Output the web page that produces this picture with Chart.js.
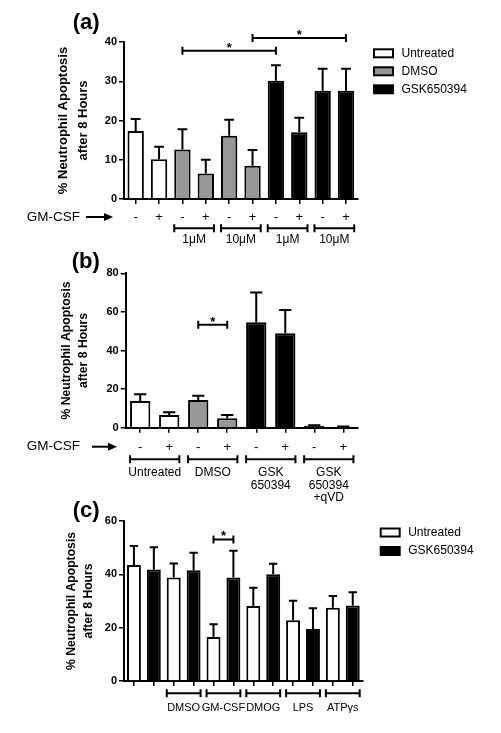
<!DOCTYPE html>
<html>
<head>
<meta charset="utf-8">
<script src="https://cdn.jsdelivr.net/npm/chart.js@4.4.1/dist/chart.umd.min.js"></script>
<style>
  html, body { margin: 0; padding: 0; background: #fff; }
  #wrap { position: relative; width: 501px; height: 733px; overflow: hidden; background: #fff; }
  canvas { position: absolute; left: 0; }
</style>
</head>
<body>
<div id="wrap">
  <canvas id="chartA" width="501" height="250" style="top:0px"></canvas>
  <canvas id="chartB" width="501" height="260" style="top:245px"></canvas>
  <canvas id="chartC" width="501" height="243" style="top:490px"></canvas>
</div>
<script>
// ---- panel (a) ----
const aCategories = ['Untreated -', 'Untreated +', 'DMSO 1μM -', 'DMSO 1μM +', 'DMSO 10μM -', 'DMSO 10μM +',
  'GSK650394 1μM -', 'GSK650394 1μM +', 'GSK650394 10μM -', 'GSK650394 10μM +']
const aTreatment = ['Untreated', 'Untreated', 'DMSO', 'DMSO', 'DMSO', 'DMSO', 'GSK650394', 'GSK650394', 'GSK650394', 'GSK650394']
const aGmCsf = ['-', '+', '-', '+', '-', '+', '-', '+', '-', '+']
const aMeans = [17.3, 10.1, 12.6, 6.5, 16.1, 8.5, 30.1, 17.0, 27.6, 27.6]
const aSem = [3.1, 3.2, 5.2, 3.5, 4.1, 4.0, 4.0, 3.7, 5.6, 5.6]
const aYMax = 40
const aYStep = 10
const aGroups = [[2, 3, ['1μM']], [4, 5, ['10μM']], [6, 7, ['1μM']], [8, 9, ['10μM']]]
const aSignif = [[2, 6, 37.8], [5, 9, 41]]
const aLegend = ['Untreated', 'DMSO', 'GSK650394']

// ---- panel (b) ----
const bCategories = ['Untreated -', 'Untreated +', 'DMSO -', 'DMSO +', 'GSK650394 -', 'GSK650394 +', 'GSK650394 +qVD -', 'GSK650394 +qVD +']
const bTreatment = ['Untreated', 'Untreated', 'DMSO', 'DMSO', 'GSK650394', 'GSK650394', 'GSK650394', 'GSK650394']
const bGmCsf = ['-', '+', '-', '+', '-', '+', '-', '+']
const bMeans = [13.8, 6.6, 14.3, 4.9, 54.6, 48.9, 1.0, 0.5]
const bSem = [3.5, 1.4, 2.3, 1.7, 15.4, 12.1, 0.3, 0.1]
const bYMax = 80
const bYStep = 20
const bGroups = [[0, 1, ['Untreated']], [2, 3, ['DMSO']], [4, 5, ['GSK', '650394']], [6, 7, ['GSK', '650394', '+qVD']]]
const bSignif = [[2, 3, 53.4]]

// ---- panel (c) ----
const cCategories = ['Untreated', 'GSK650394', 'DMSO', 'DMSO + GSK650394', 'GM-CSF', 'GM-CSF + GSK650394',
  'DMOG', 'DMOG + GSK650394', 'LPS', 'LPS + GSK650394', 'ATPγs', 'ATPγs + GSK650394']
const cTreatment = ['Untreated', 'GSK650394', 'Untreated', 'GSK650394', 'Untreated', 'GSK650394',
  'Untreated', 'GSK650394', 'Untreated', 'GSK650394', 'Untreated', 'GSK650394']
const cMeans = [43.5, 41.8, 38.8, 41.5, 16.5, 38.8, 28.1, 40.0, 22.8, 19.5, 27.5, 28.3]
const cSem = [7.1, 8.4, 5.3, 6.6, 4.8, 10.0, 6.9, 4.0, 7.3, 7.8, 4.4, 5.0]
const cYMax = 60
const cYStep = 20
const cGroups = [[2, 3, ['DMSO']], [4, 5, ['GM-CSF']], [6, 7, ['DMOG']], [8, 9, ['LPS']], [10, 11, ['ATPγs']]]
const cSignif = [[4, 5, 53.1]]
const cLegend = ['Untreated', 'GSK650394']

const yTitle = ['% Neutrophil Apoptosis', 'after 8 Hours']

const FONT = "'Liberation Sans', Arial, Helvetica, sans-serif"
const fills = { Untreated: '#ffffff', DMSO: '#979797', GSK650394: '#000000' }

const bracket = (ctx, x1, x2, yy, h) => {
  ctx.beginPath()
  ctx.moveTo(x1, yy); ctx.lineTo(x2, yy)
  ctx.moveTo(x1, yy - h); ctx.lineTo(x1, yy + h)
  ctx.moveTo(x2, yy - h); ctx.lineTo(x2, yy + h)
  ctx.stroke()
}

const panelExtras = (p) => ({
  id: 'panelExtras',
  afterDatasetsDraw(chart) {
    const { ctx, chartArea, scales: { y } } = chart
    const bars = chart.getDatasetMeta(0).data
    ctx.save()
    ctx.strokeStyle = '#000'
    ctx.fillStyle = '#000'
    ctx.lineWidth = 2

    // error bars (upper only)
    bars.forEach((bar, i) => {
      const top = y.getPixelForValue(p.means[i] + p.sem[i])
      const cap = bar.width * 0.6
      ctx.beginPath()
      ctx.moveTo(bar.x, bar.y); ctx.lineTo(bar.x, top)
      ctx.moveTo(bar.x - cap / 2, top); ctx.lineTo(bar.x + cap / 2, top)
      ctx.stroke()
    })

    // significance brackets
    ctx.textAlign = 'center'
    ctx.textBaseline = 'alphabetic'
    p.signif.forEach(([i, j, v]) => {
      const yy = y.getPixelForValue(v)
      bracket(ctx, bars[i].x, bars[j].x, yy, 4)
      ctx.font = 'bold 13px ' + FONT
      ctx.fillText('*', (bars[i].x + bars[j].x) / 2, yy + 1)
    })

    // group brackets under the axis
    const gy = chartArea.bottom + p.groupDy
    ctx.font = p.groupFont + 'px ' + FONT
    ctx.textBaseline = 'middle'
    p.groups.forEach(([i, j, lines]) => {
      const x1 = bars[i].x - bars[i].width / 2
      const x2 = bars[j].x + bars[j].width / 2
      bracket(ctx, x1, x2, gy, 4)
      lines.forEach((t, k) => ctx.fillText(t, (x1 + x2) / 2, gy + p.labelDy + k * p.labelLh))
    })

    // GM-CSF arrow row
    if (p.gm) {
      const { tx, ax1, ax2, yy } = p.gm
      ctx.font = '13.5px ' + FONT
      ctx.textAlign = 'right'
      ctx.fillText('GM-CSF', tx, yy)
      ctx.beginPath()
      ctx.moveTo(ax1, yy); ctx.lineTo(ax2 - 6, yy)
      ctx.stroke()
      ctx.beginPath()
      ctx.moveTo(ax2, yy); ctx.lineTo(ax2 - 9, yy - 4); ctx.lineTo(ax2 - 9, yy + 4)
      ctx.closePath(); ctx.fill()
    }

    // panel letter
    ctx.font = 'bold 22px ' + FONT
    ctx.textAlign = 'left'
    ctx.fillText(p.letter.text, p.letter.x, p.letter.y)

    // legend
    if (p.legend) {
      const { x, y: ly, dy, items } = p.legend
      ctx.font = '12px ' + FONT
      ctx.lineWidth = 2
      items.forEach((name, k) => {
        const cy = ly + k * dy
        ctx.fillStyle = fills[name]
        ctx.fillRect(x, cy - 4, 19, 8)
        ctx.strokeRect(x, cy - 4, 19, 8)
        ctx.fillStyle = '#000'
        ctx.fillText(name, x + 27.5, cy)
      })
    }
    ctx.restore()
  }
})

const makeChart = (id, p) => new Chart(document.getElementById(id), {
  type: 'bar',
  data: {
    labels: p.categories,
    datasets: [{
      data: p.means,
      backgroundColor: p.treatment.map(t => fills[t]),
      borderColor: '#000',
      borderWidth: 2,
      borderSkipped: 'bottom',
      barPercentage: 0.7,
      categoryPercentage: 1
    }]
  },
  options: {
    responsive: false,
    animation: false,
    devicePixelRatio: 1,
    layout: { padding: { top: p.padTop, right: p.padRight, left: 0, bottom: 0 } },
    plugins: { legend: { display: false }, tooltip: { enabled: false } },
    scales: {
      x: {
        grid: { drawOnChartArea: false, offset: false, tickLength: 5, color: '#000', lineWidth: 1.5 },
        border: { color: '#000', width: 2 },
        ticks: {
          autoSkip: false, maxRotation: 0, color: '#000', padding: p.signPad,
          font: { family: FONT, size: 13 },
          callback: (v, i) => p.signs ? p.signs[i] : ''
        },
        afterFit: (s) => { s.height = p.xHeight }
      },
      y: {
        min: 0, max: p.yMax,
        ticks: { stepSize: p.yStep, color: '#000', padding: 2, font: { family: FONT, size: 11, weight: 'bold' } },
        grid: { drawOnChartArea: false, tickLength: 5, color: '#000', lineWidth: 1.5 },
        border: { color: '#000', width: 2 },
        title: {
          display: true, text: yTitle, color: '#000',
          font: { family: FONT, size: p.titleSize, weight: 'bold', lineHeight: p.titleLh },
          padding: { top: p.titlePad, bottom: 0 }
        },
        afterFit: (s) => { s.width = p.yWidth }
      }
    }
  },
  plugins: [panelExtras(p)]
})

makeChart('chartA', {
  categories: aCategories, treatment: aTreatment, signs: aGmCsf, means: aMeans, sem: aSem,
  yMax: aYMax, yStep: aYStep, groups: aGroups, signif: aSignif,
  padTop: 42, padRight: 143.3, xHeight: 51, yWidth: 124, signPad: 6,
  titleSize: 13, titleLh: 1.5, titlePad: 54,
  groupDy: 29.3, labelDy: 11.2, labelLh: 12.5, groupFont: 12,
  gm: { tx: 80, ax1: 86, ax2: 113, yy: 217 },
  letter: { text: '(a)', x: 72.7, y: 22.5 },
  legend: { x: 374, y: 53.3, dy: 18, items: aLegend }
})

makeChart('chartB', {
  categories: bCategories, treatment: bTreatment, signs: bGmCsf, means: bMeans, sem: bSem,
  yMax: bYMax, yStep: bYStep, groups: bGroups, signif: bSignif,
  padTop: 28.3, padRight: 143.2, xHeight: 77.3, yWidth: 125.7, signPad: 7,
  titleSize: 12.2, titleLh: 1.38, titlePad: 58,
  groupDy: 31.6, labelDy: 13.4, labelLh: 12.6, groupFont: 12,
  gm: { tx: 80, ax1: 92, ax2: 117, yy: 201.7 },
  letter: { text: '(b)', x: 71.7, y: 17 }
})

makeChart('chartC', {
  categories: cCategories, treatment: cTreatment, signs: null, means: cMeans, sem: cSem,
  yMax: cYMax, yStep: cYStep, groups: cGroups, signif: cSignif,
  padTop: 31, padRight: 138.3, xHeight: 52, yWidth: 124, signPad: 5,
  titleSize: 12.2, titleLh: 1.4, titlePad: 63,
  groupDy: 12.3, labelDy: 15, labelLh: 12.5, groupFont: 11,
  letter: { text: '(c)', x: 72.7, y: 20.5 },
  legend: { x: 380.7, y: 42.5, dy: 18.5, items: cLegend }
})
</script>
</body>
</html>
